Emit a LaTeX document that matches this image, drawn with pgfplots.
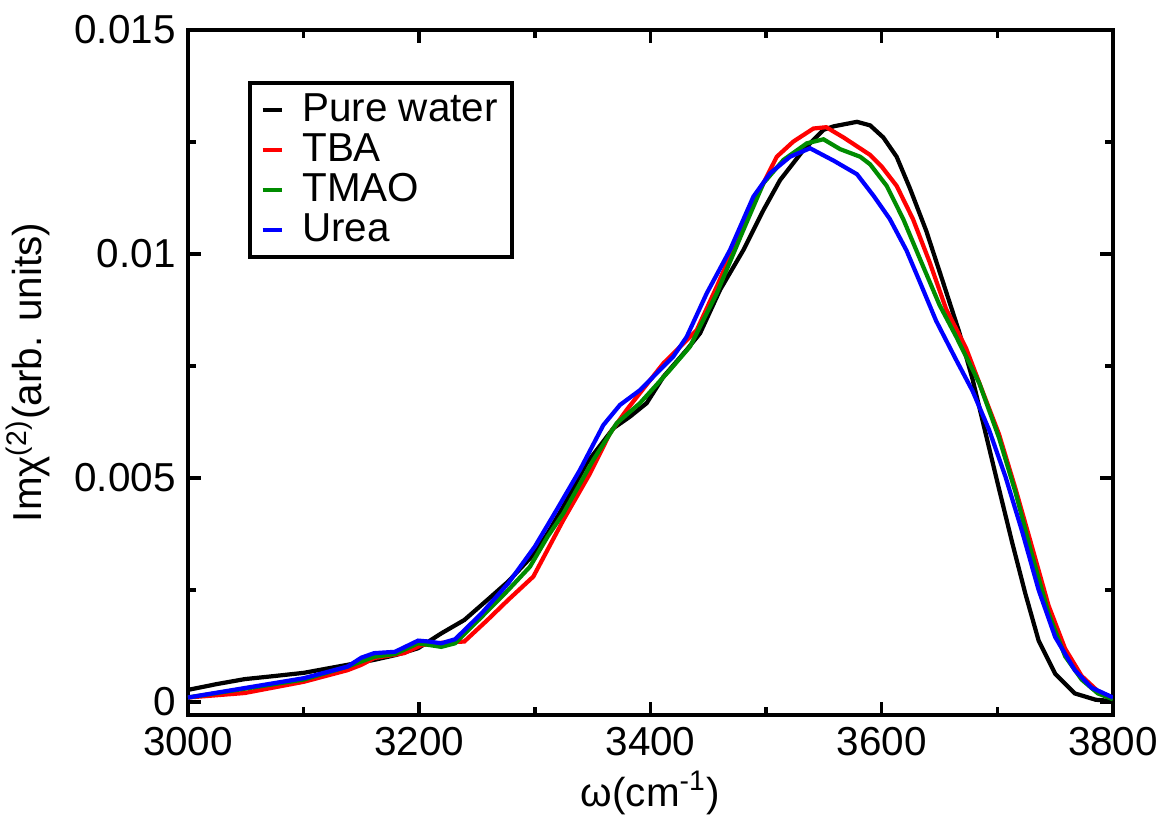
\documentclass[border=0pt]{standalone}
\usepackage{fontspec}
\setmainfont{Liberation Sans}
\usepackage{pgfplots}
\pgfplotsset{compat=1.18}
\definecolor{cgreen}{RGB}{0,140,0}

\begin{document}
\begin{tikzpicture}
\useasboundingbox (-1.88,-1.03) rectangle (9.74,7.15);
\begin{axis}[
  scale only axis,
  width=9.25cm, height=6.85cm,
  xmin=3000, xmax=3800,
  ymin=-0.00029, ymax=0.015,
  xtick={3000,3200,...,3800},
  minor x tick num=1,
  ytick={0,0.005,0.01,0.015},
  yticklabels={0,0.005,0.01,0.015},
  scaled y ticks=false,
  minor y tick num=1,
  tick align=inside,
  major tick length=3.7pt, minor tick length=2.3pt,
  every tick/.style={line width=1pt, black},
  axis line style={line width=1.1pt},
  /pgf/number format/1000 sep={},
  /pgf/number format/assume math mode=true,
  tick label style={font=\fontsize{11.5}{13}\selectfont},
  label style={font=\fontsize{11.5}{13}\selectfont},
  xlabel={ω(cm\textsuperscript{-1})},
  xlabel style={yshift=2.5pt},
  ylabel={Imχ\textsuperscript{(2)}(arb. units)},
  legend style={at={(0.065,0.9255)}, anchor=north west, draw=black,
    line width=1.1pt, font=\fontsize{11.5}{13}\selectfont,
    inner xsep=3pt, inner ysep=2pt,
    nodes={inner sep=1pt, text height=8pt, text depth=1.4pt}},
  legend cell align=left,
  legend image code/.code={\draw[#1, line width=1.2pt] (0cm,0cm) -- (0.19cm,0cm); \path (0.34cm,0cm);},
  every axis plot/.append style={line width=1.2pt},
]
\addplot[black] coordinates {
(3000,0.00027) (3025,0.0004) (3049,0.00051) (3075,0.00058) (3100,0.00065)
(3138,0.00083) (3161,0.00094) (3180,0.00105) (3199,0.0012) (3219,0.00153)
(3239,0.00183) (3259,0.00228) (3277,0.00269) (3297,0.00324) (3311,0.00376)
(3324.6,0.00436) (3344.8,0.00533) (3367.9,0.00611) (3382.3,0.00637) (3396.7,0.00667)
(3411.2,0.00726) (3431.3,0.00786) (3442.9,0.00823) (3460.2,0.0092) (3480.4,0.01009)
(3497.7,0.01098) (3512.1,0.01165) (3532.3,0.01232) (3549.6,0.01277) (3558.6,0.01285)
(3578.6,0.01295) (3590,0.01287) (3601.4,0.0126) (3612.9,0.01217) (3624.3,0.01147)
(3638.6,0.01051) (3652.9,0.00938) (3667.1,0.00825) (3678.6,0.0072) (3690,0.00598)
(3701.4,0.00476) (3712.9,0.00355) (3724.3,0.00241) (3735.7,0.00137) (3750,0.00063)
(3767.1,0.00019) (3785,0.00005) (3800,0.00002)
};
\addlegendentry{Pure water}
\addplot[red] coordinates {
(3000,0.0001) (3049,0.0002) (3100,0.00045) (3138,0.00071) (3150,0.00083)
(3161,0.00098) (3187,0.00109) (3202,0.00127) (3219,0.00132) (3239,0.00135)
(3259,0.00183) (3277,0.00228) (3298.7,0.0028) (3324.6,0.00406) (3347.7,0.0051)
(3365,0.006) (3379.4,0.00652) (3411.2,0.00756) (3440,0.0083) (3457.3,0.00927)
(3477.5,0.01046) (3494.8,0.01143) (3509.2,0.01217) (3523.6,0.01251) (3540.9,0.0128)
(3552,0.01283) (3567,0.0126) (3590,0.01221) (3600,0.01195) (3612.9,0.01152)
(3627,0.01078) (3641.4,0.00982) (3655.7,0.00877) (3672.9,0.0079) (3687.1,0.00694)
(3701.4,0.00598) (3715.7,0.00476) (3730,0.00346) (3744.3,0.00215) (3758.6,0.00119)
(3772.9,0.00058) (3787,0.00024) (3800,0.00008)
};
\addlegendentry{TBA}
\addplot[cgreen] coordinates {
(3000,0.0001) (3100,0.0005) (3138,0.00079) (3161,0.00101) (3179,0.00107)
(3199,0.00131) (3219,0.00123) (3231,0.00131) (3254,0.0019) (3277,0.0025)
(3295.8,0.00302) (3311,0.00369) (3324.6,0.00421) (3350.5,0.0054) (3370.7,0.00622)
(3390.9,0.00667) (3416.8,0.00741) (3434.1,0.00793) (3457.3,0.00912) (3480.4,0.01054)
(3497.7,0.01158) (3515,0.0121) (3535.2,0.01247) (3549.6,0.01256) (3564,0.01234)
(3581.4,0.01217) (3590,0.012) (3604.3,0.01152) (3618.6,0.01078) (3632.9,0.0099)
(3650,0.00886) (3664.3,0.00816) (3684.3,0.00712) (3701.4,0.0059) (3715.7,0.00468)
(3730,0.00328) (3744.3,0.00198) (3758.6,0.00102) (3772.9,0.0005) (3787,0.00019)
(3800,0.00006)
};
\addlegendentry{TMAO}
\addplot[blue] coordinates {
(3000,0.0001) (3100,0.00053) (3138,0.00079) (3150,0.00099) (3161,0.00109)
(3179,0.00112) (3199,0.00137) (3208,0.00135) (3219,0.00131) (3231,0.0014)
(3254,0.00198) (3277,0.00265) (3300,0.00347) (3318.9,0.00429) (3339,0.00518)
(3359.2,0.00618) (3373.6,0.00663) (3390.9,0.00696) (3419.7,0.00771) (3431.3,0.00815)
(3448.6,0.00912) (3468.8,0.01009) (3489,0.01128) (3503.4,0.0118) (3520.7,0.01217)
(3538,0.01236) (3558.6,0.01208) (3578.6,0.01178) (3592.9,0.0113) (3607,0.01078)
(3621.4,0.01008) (3632.9,0.00938) (3647,0.00851) (3664.3,0.00764) (3678.6,0.00694)
(3692.9,0.00607) (3707,0.00503) (3721.4,0.00381) (3735.7,0.0025) (3750,0.00145)
(3767,0.00071) (3781.4,0.00032) (3800,0.0001)
};
\addlegendentry{Urea}
\end{axis}
\end{tikzpicture}
\end{document}
